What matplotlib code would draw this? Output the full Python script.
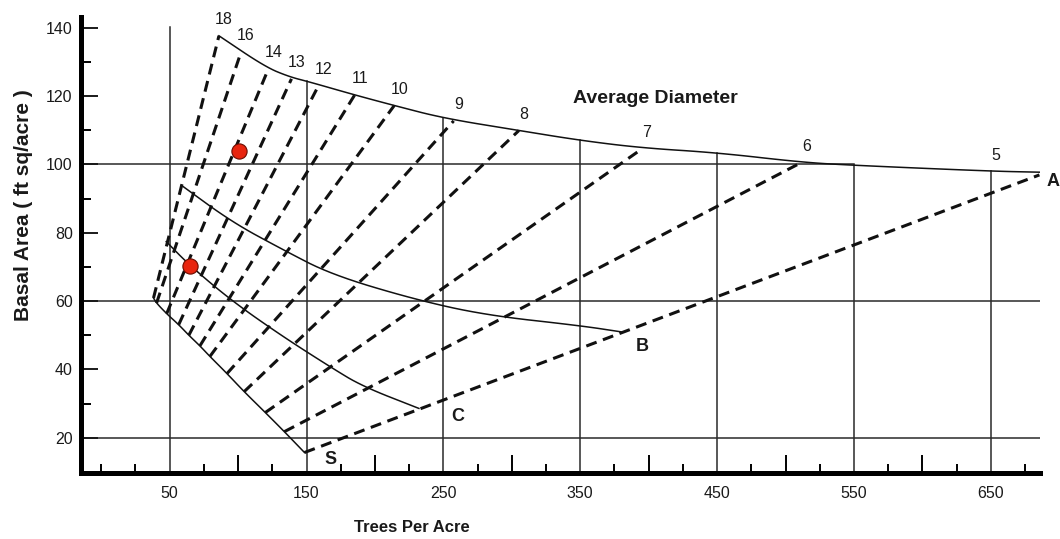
import numpy as np
import matplotlib
matplotlib.use('Agg')
import matplotlib.pyplot as plt

plt.rcParams['font.family'] = ['Liberation Sans', 'DejaVu Sans']

# stocking chart data (trees per acre, basal area ft2/acre)
diameters = [18, 16, 14, 13, 12, 11, 10, 9, 8, 7, 6, 5]
diam_bottom_tpa = [38.2, 40.4, 47.8, 56.6, 64.0, 72.1, 79.4, 91.9, 104.4, 119.9, 133.8, 148.5]
diam_bottom_ba = [60.9, 59.4, 56.3, 53.1, 50.0, 46.9, 43.8, 38.8, 33.5, 27.4, 21.8, 15.7]
diam_top_tpa = [86.0, 102.2, 122.1, 139.0, 159.0, 185.2, 214.1, 257.5, 305.2, 395.0, 511.9, 685.5]
diam_top_ba = [137.6, 132.9, 127.9, 125.0, 123.2, 120.3, 117.2, 112.7, 109.9, 104.5, 100.6, 96.9]

# A line (top curve)
a_tpa = [86.0, 119.9, 137.5, 152.1, 185.2, 214.1, 250, 305.2, 350, 395.0, 450, 511.9, 550, 650, 685.5]
a_ba = [137.6, 128.5, 125.6, 124.1, 120.3, 117.2, 113.5, 109.9, 107.0, 104.8, 103.4, 100.6, 99.7, 98.0, 97.7]

# B line
b_tpa = [58.8, 95.6, 132.4, 167.9, 227.9, 280.6, 350, 379.8]
b_ba = [93.8, 83.1, 75.1, 67.8, 60.6, 55.9, 52.8, 51.0]

# C line
c_tpa = [47.5, 64.7, 95.6, 132.4, 167.9, 190.7, 232.1]
c_ba = [77.4, 70.4, 60.0, 49.7, 40.6, 35.1, 28.6]

# sample plots
dots_tpa = [100.7, 64.7]
dots_ba = [103.9, 70.4]

grid_tpa = [50, 150, 250, 350, 450, 550, 650]
grid_ba = [20, 60, 100]
ytick_vals = [20, 40, 60, 80, 100, 120, 140]


def smooth(xs, ys, n=3):
    '''
    Chaikin corner cutting, keeps the end points
    '''
    pts = np.column_stack([xs, ys]).astype(float)
    for _ in range(n):
        q = 0.75*pts[:-1] + 0.25*pts[1:]
        r = 0.25*pts[:-1] + 0.75*pts[1:]
        new = np.empty((2*len(q), 2))
        new[0::2] = q
        new[1::2] = r
        pts = np.vstack([pts[0], new, pts[-1]])
    return pts[:, 0], pts[:, 1]


fig = plt.figure(figsize=[10.6, 5.39], dpi=100)
ax = fig.add_axes([0.0764, 0.1224, 0.9047, 0.8461])
ax.set_xlim(-14.8, 685.9)
ax.set_ylim(9.7, 143.1)

line_c = '#111111'
grid_c = '#2a2a2a'

# grid lines
for x in grid_tpa:
    if x == 50:
        top = 140.3
    else:
        top = np.interp(x, a_tpa, a_ba)
    ax.plot([x, x], [9.7, top], c=grid_c, lw=1.1, zorder=1)
for y in grid_ba:
    right = 550 if y == 100 else 685.9
    ax.plot([-14.8, right], [y, y], c=grid_c, lw=1.1, zorder=1)

# solid stocking lines
for xs, ys in [(a_tpa, a_ba), (b_tpa, b_ba), (c_tpa, c_ba), (diam_bottom_tpa, diam_bottom_ba)]:
    sx, sy = smooth(xs, ys)
    ax.plot(sx, sy, c=line_c, lw=1.1, zorder=2)

# dashed average diameter lines
for i in range(len(diameters)):
    ax.plot([diam_bottom_tpa[i], diam_top_tpa[i]], [diam_bottom_ba[i], diam_top_ba[i]],
            c=line_c, lw=2.2, dashes=(3.6, 2.2), zorder=3)
    if diameters[i] == 5:
        lx, ly = 650, np.interp(650, a_tpa, a_ba)
    else:
        lx, ly = diam_top_tpa[i], diam_top_ba[i]
    ax.annotate(str(diameters[i]), (lx, ly), xytext=(5, 16), textcoords='offset pixels',
                ha='center', va='center', fontsize=11.5, color='#1a1a1a')

ax.scatter(dots_tpa, dots_ba, s=120, c='#e8250f', edgecolors='#6a0c00', linewidths=0.8, zorder=5)

# line letters
ax.annotate('A', (diam_top_tpa[-1], diam_top_ba[-1]), xytext=(14, -7), textcoords='offset pixels',
            ha='center', va='center', fontsize=13, fontweight='bold', color='#1a1a1a',
            annotation_clip=False)
ax.annotate('B', (b_tpa[-1], b_ba[-1]), xytext=(21, -15), textcoords='offset pixels',
            ha='center', va='center', fontsize=13, fontweight='bold', color='#1a1a1a')
ax.annotate('C', (c_tpa[-1], c_ba[-1]), xytext=(39, -8), textcoords='offset pixels',
            ha='center', va='center', fontsize=13, fontweight='bold', color='#1a1a1a')
ax.annotate('S', (diam_bottom_tpa[-1], diam_bottom_ba[-1]), xytext=(26, -7), textcoords='offset pixels',
            ha='center', va='center', fontsize=13, fontweight='bold', color='#1a1a1a')

ax.text(405, 119.4, 'Average Diameter', ha='center', va='center', fontsize=14,
        fontweight='bold', color='#1a1a1a')

# spines
for s in ['top', 'right']:
    ax.spines[s].set_visible(False)
for s in ['left', 'bottom']:
    ax.spines[s].set_linewidth(3.6)
    ax.spines[s].set_color('#000000')

# y ticks
ax.set_yticks(ytick_vals)
ax.set_yticks(np.arange(10, 141, 10), minor=True)
ax.tick_params(axis='y', which='major', direction='in', length=12, width=1.4, pad=6,
               labelsize=11.5, colors='#1a1a1a')
ax.tick_params(axis='y', which='minor', direction='in', length=7, width=1.4)

# x ticks: tall at hundreds, short at quarter steps, labels on a second axis
ax.set_xticks(np.arange(100, 601, 100))
ax.set_xticks([t for t in np.arange(0, 676, 25) if t % 50 != 0 or t == 0], minor=True)
ax.tick_params(axis='x', which='major', direction='in', length=13, width=1.4, labelbottom=False)
ax.tick_params(axis='x', which='minor', direction='in', length=6.5, width=1.4)

sec = ax.secondary_xaxis('bottom')
sec.set_xticks(grid_tpa)
sec.tick_params(length=0, pad=9, labelsize=11.5, colors='#1a1a1a')
sec.spines['bottom'].set_visible(False)

fig.text(0.389, 0.022, 'Trees Per Acre', ha='center', va='center', fontsize=12,
         fontweight='bold', color='#1a1a1a')
fig.text(0.0217, 0.6197, 'Basal Area ( ft sq/acre )', ha='center', va='center', rotation=90,
         fontsize=15, fontweight='bold', color='#1a1a1a')

fig.savefig('out.png', dpi=100)
